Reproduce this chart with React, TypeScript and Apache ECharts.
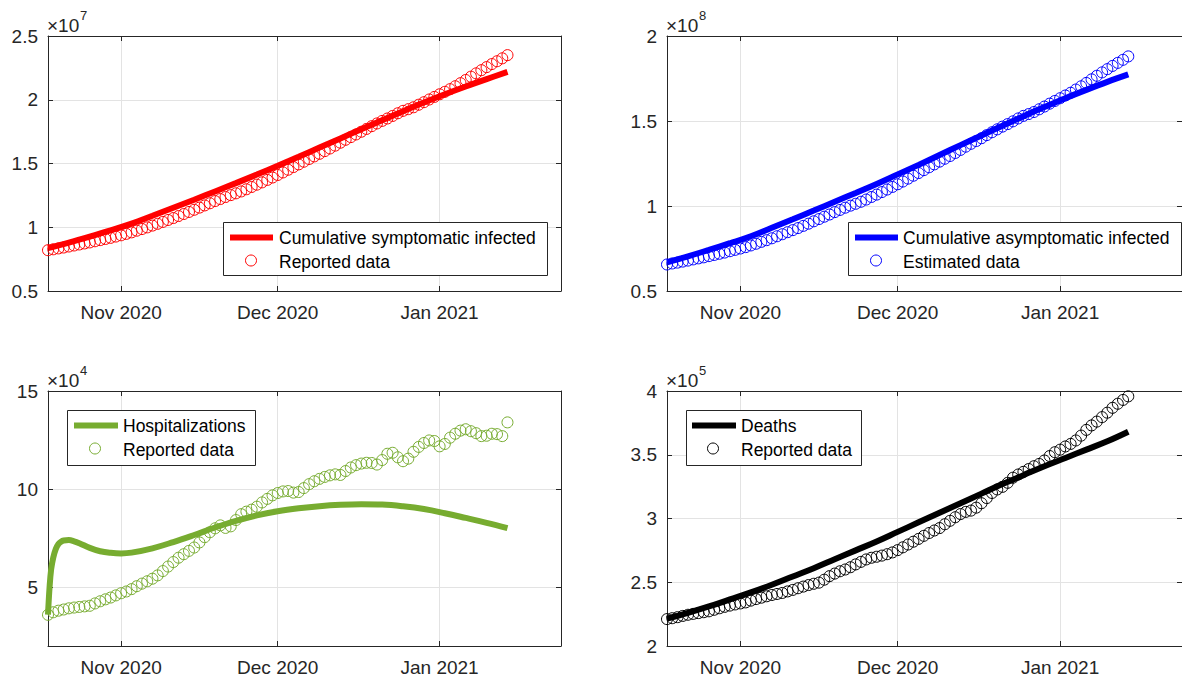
import React, { useEffect, useRef } from "react";
import * as echarts from "echarts";

// ---------- DATA ----------
const DAY = 86400000;
const START = Date.UTC(2020, 9, 18); // first daily observation
const X_MIN = Date.UTC(2020, 9, 18);
const X_MAX = Date.UTC(2021, 0, 24, 6);
const MONTH_TICKS = [Date.UTC(2020, 10, 1), Date.UTC(2020, 11, 1), Date.UTC(2021, 0, 1)];
const MONTH_NAMES = ["Jan", "Feb", "Mar", "Apr", "May", "Jun", "Jul", "Aug", "Sep", "Oct", "Nov", "Dec"];

// Days (from START) at which the fitted curves are sampled
const fitDays = [0, 4, 8, 12, 16, 20, 24, 28, 32, 36, 40, 44, 48, 52, 56, 60, 64, 68, 72, 76, 80, 84, 88];
const hospFitDays = [0, 0.3, 0.6, 1, 1.5, 2, 2.5, 3, 4, 5, 6, 8, 10, 12, 14, 16, 20, 24, 28, 32, 36, 40, 44, 48, 52, 56, 60, 64, 68, 72, 76, 80, 84, 88];

// Cumulative symptomatic infected (x1e7)
const symptomaticReported = [
  0.820, 0.827, 0.834, 0.841, 0.849, 0.857, 0.865, 0.873, 0.881, 0.890,
  0.899, 0.908, 0.917, 0.927, 0.937, 0.948, 0.960, 0.973, 0.986, 0.999,
  1.013, 1.027, 1.042, 1.057, 1.072, 1.088, 1.104, 1.120, 1.137, 1.154,
  1.171, 1.188, 1.205, 1.221, 1.237, 1.252, 1.266, 1.281, 1.298, 1.316,
  1.334, 1.352, 1.371, 1.390, 1.410, 1.430, 1.451, 1.472, 1.493, 1.514,
  1.535, 1.556, 1.576, 1.597, 1.618, 1.640, 1.663, 1.686, 1.707, 1.728,
  1.749, 1.771, 1.793, 1.814, 1.834, 1.853, 1.873, 1.894, 1.913, 1.926,
  1.941, 1.961, 1.981, 2.002, 2.022, 2.043, 2.062, 2.083, 2.106, 2.130,
  2.155, 2.181, 2.207, 2.232, 2.256, 2.280, 2.302, 2.325, 2.350,
];
const symptomaticFit = [
  0.836, 0.880, 0.927, 0.976, 1.028, 1.090, 1.153, 1.216, 1.281, 1.346, 1.413, 1.482,
  1.553, 1.625, 1.697, 1.769, 1.840, 1.910, 1.978, 2.043, 2.104, 2.162, 2.218,
];

// Cumulative asymptomatic infected (x1e8)
const asymptomaticEstimated = [
  0.656, 0.662, 0.667, 0.673, 0.679, 0.686, 0.692, 0.698, 0.705, 0.712,
  0.719, 0.726, 0.734, 0.742, 0.750, 0.758, 0.768, 0.778, 0.789, 0.799,
  0.810, 0.822, 0.834, 0.846, 0.858, 0.870, 0.883, 0.896, 0.910, 0.923,
  0.937, 0.950, 0.964, 0.977, 0.990, 1.002, 1.013, 1.025, 1.038, 1.053,
  1.067, 1.082, 1.097, 1.112, 1.128, 1.144, 1.161, 1.178, 1.194, 1.211,
  1.228, 1.245, 1.261, 1.278, 1.294, 1.312, 1.330, 1.349, 1.366, 1.382,
  1.399, 1.417, 1.434, 1.451, 1.467, 1.482, 1.498, 1.515, 1.530, 1.541,
  1.553, 1.569, 1.585, 1.602, 1.618, 1.634, 1.650, 1.666, 1.685, 1.704,
  1.724, 1.745, 1.766, 1.786, 1.805, 1.824, 1.842, 1.860, 1.880,
];
const asymptomaticFit = [
  0.669, 0.704, 0.742, 0.781, 0.822, 0.872, 0.922, 0.973, 1.025, 1.077, 1.130, 1.186,
  1.242, 1.300, 1.358, 1.415, 1.472, 1.528, 1.582, 1.634, 1.683, 1.730, 1.774,
];

// Hospitalizations (x1e4)
const hospReported = [
  3.59, 3.72, 3.80, 3.86, 3.92, 3.96, 3.99, 4.02, 4.05, 4.17,
  4.28, 4.38, 4.47, 4.58, 4.69, 4.78, 4.90, 5.05, 5.18, 5.30,
  5.43, 5.60, 5.82, 6.05, 6.28, 6.50, 6.68, 6.85, 7.02, 7.28,
  7.55, 7.80, 8.00, 8.15, 8.02, 8.10, 8.42, 8.72, 8.85, 8.95,
  9.10, 9.32, 9.50, 9.68, 9.80, 9.88, 9.90, 9.82, 9.85, 10.05,
  10.25, 10.40, 10.52, 10.62, 10.70, 10.75, 10.72, 10.92, 11.10, 11.22,
  11.30, 11.34, 11.33, 11.25, 11.48, 11.80, 11.85, 11.62, 11.42, 11.55,
  11.90, 12.15, 12.35, 12.48, 12.45, 12.18, 12.30, 12.62, 12.82, 12.98,
  13.05, 12.95, 12.85, 12.70, 12.72, 12.82, 12.80, 12.70, 13.40,
];
const hospFit = [
  3.60, 5.00, 5.90, 6.50, 6.95, 7.20, 7.32, 7.38, 7.40, 7.34, 7.24, 7.00, 6.83, 6.75,
  6.72, 6.76, 6.98, 7.30, 7.66, 8.04, 8.38, 8.66, 8.87, 9.02, 9.13, 9.20, 9.23, 9.21,
  9.12, 8.98, 8.77, 8.53, 8.28, 8.01,
];

// Deaths (x1e5)
const deathsReported = [
  2.211, 2.218, 2.226, 2.236, 2.245, 2.252, 2.258, 2.265, 2.272, 2.284,
  2.296, 2.307, 2.317, 2.326, 2.334, 2.342, 2.356, 2.368, 2.379, 2.390,
  2.400, 2.408, 2.416, 2.428, 2.440, 2.453, 2.466, 2.478, 2.488, 2.497,
  2.520, 2.548, 2.568, 2.586, 2.600, 2.618, 2.640, 2.660, 2.679, 2.692,
  2.700, 2.709, 2.720, 2.734, 2.752, 2.774, 2.796, 2.818, 2.840, 2.864,
  2.886, 2.906, 2.925, 2.955, 2.982, 3.010, 3.035, 3.052, 3.062, 3.085,
  3.120, 3.160, 3.200, 3.228, 3.248, 3.280, 3.320, 3.345, 3.366, 3.388,
  3.410, 3.428, 3.455, 3.490, 3.520, 3.540, 3.565, 3.585, 3.612, 3.650,
  3.695, 3.730, 3.760, 3.795, 3.830, 3.868, 3.900, 3.930, 3.958,
];
const deathsFit = [
  2.215, 2.260, 2.310, 2.365, 2.420, 2.480, 2.545, 2.610, 2.680, 2.750, 2.820, 2.895,
  2.970, 3.045, 3.120, 3.195, 3.270, 3.340, 3.410, 3.475, 3.540, 3.605, 3.680,
];

// ---------- STYLE / LAYOUT ----------
const FONT = "'Liberation Sans', Arial, Helvetica, sans-serif";
const AX = "#262626";
const GRID = "#e3e3e3";
const GREEN = "#77ac30";

const PANELS = [
  {
    left: 48, top: 36, width: 513, height: 255,
    yMin: 0.5, yMax: 2.5, yTicks: [0.5, 1, 1.5, 2, 2.5], exp: "7",
    color: "#ff0000", fitX: fitDays, fitY: symptomaticFit, dataY: symptomaticReported,
    fitName: "Cumulative symptomatic infected", dataName: "Reported data",
    legend: { x: 223, y: 222, w: 324, h: 53, l1: 230, l2: 273, cx: 251, tx: 279 },
  },
  {
    left: 667, top: 36, width: 528, height: 255,
    yMin: 0.5, yMax: 2, yTicks: [0.5, 1, 1.5, 2], exp: "8",
    color: "#0000ff", fitX: fitDays, fitY: asymptomaticFit, dataY: asymptomaticEstimated,
    fitName: "Cumulative asymptomatic infected", dataName: "Estimated data",
    legend: { x: 848, y: 222, w: 333, h: 53, l1: 855, l2: 898, cx: 876, tx: 903 },
  },
  {
    left: 48, top: 391, width: 513, height: 255,
    yMin: 2, yMax: 15, yTicks: [5, 10, 15], exp: "4",
    color: GREEN, fitX: hospFitDays, fitY: hospFit, dataY: hospReported,
    fitName: "Hospitalizations", dataName: "Reported data",
    legend: { x: 67, y: 410, w: 188, h: 55, l1: 74, l2: 118, cx: 95, tx: 123 },
  },
  {
    left: 667, top: 391, width: 528, height: 255,
    yMin: 2, yMax: 4, yTicks: [2, 2.5, 3, 3.5, 4], exp: "5",
    color: "#000000", fitX: fitDays, fitY: deathsFit, dataY: deathsReported,
    fitName: "Deaths", dataName: "Reported data",
    legend: { x: 686, y: 410, w: 175, h: 55, l1: 692, l2: 736, cx: 713, tx: 741 },
  },
];

function fmtMonth(v: number) {
  const d = new Date(v);
  return MONTH_NAMES[d.getUTCMonth()] + " " + d.getUTCFullYear();
}

function buildOption() {
  const grid: any[] = [];
  const xAxis: any[] = [];
  const yAxis: any[] = [];
  const series: any[] = [];
  const graphic: any[] = [];

  PANELS.forEach((p, i) => {
    grid.push({ left: p.left, top: p.top, width: p.width, height: p.height });
    const axisLine = { show: true, onZero: false, lineStyle: { color: AX, width: 1 } };
    const tickBase = { show: true, inside: true, length: 5, lineStyle: { color: AX, width: 1 } };
    const splitLine = { show: true, lineStyle: { color: GRID, width: 1 } };

    xAxis.push({
      type: "value", gridIndex: i, position: "bottom", min: X_MIN, max: X_MAX, scale: true,
      axisLine, axisTick: { ...tickBase, customValues: MONTH_TICKS },
      axisLabel: { customValues: MONTH_TICKS, formatter: fmtMonth, fontSize: 19, color: AX, margin: 12, fontFamily: FONT },
      splitLine,
    });
    xAxis.push({
      type: "value", gridIndex: i, position: "top", min: X_MIN, max: X_MAX, scale: true,
      axisLine, axisTick: { ...tickBase, customValues: MONTH_TICKS },
      axisLabel: { show: false, customValues: MONTH_TICKS, formatter: fmtMonth }, splitLine: { show: false },
    });
    yAxis.push({
      type: "value", gridIndex: i, position: "left", min: p.yMin, max: p.yMax,
      axisLine, axisTick: { ...tickBase, customValues: p.yTicks },
      axisLabel: { customValues: p.yTicks, fontSize: 19, color: AX, margin: 10, fontFamily: FONT },
      splitLine,
    });
    yAxis.push({
      type: "value", gridIndex: i, position: "right", min: p.yMin, max: p.yMax,
      axisLine, axisTick: { ...tickBase, customValues: p.yTicks },
      axisLabel: { show: false, customValues: p.yTicks }, splitLine: { show: false },
    });

    series.push({
      name: p.fitName, type: "line", xAxisIndex: 2 * i, yAxisIndex: 2 * i,
      data: p.fitX.map((d, k) => [START + d * DAY, p.fitY[k]]),
      showSymbol: false, symbol: "none", smooth: 0.4, clip: false, silent: true,
      lineStyle: { color: p.color, width: 6, cap: "butt" }, z: 2,
    });
    series.push({
      name: p.dataName, type: "scatter", xAxisIndex: 2 * i, yAxisIndex: 2 * i,
      data: p.dataY.map((v, k) => [START + k * DAY, v]),
      symbol: "circle", symbolSize: 11, clip: false, silent: true,
      itemStyle: { color: "rgba(0,0,0,0)", borderColor: p.color, borderWidth: 1, opacity: 1 }, z: 3,
    });

    // exponent label
    const ey = p.top - 10;
    graphic.push({
      type: "text", left: p.left - 1, top: ey - 10, silent: true, z: 100,
      style: { text: "×10", font: `19px ${FONT}`, fill: AX },
    });
    graphic.push({
      type: "text", left: p.left + 32, top: ey - 17, silent: true, z: 100,
      style: { text: p.exp, font: `13px ${FONT}`, fill: AX },
    });

    // legend box
    const L = p.legend;
    const r1 = L.y + 15.5;
    const r2 = L.y + 38.5;
    graphic.push(
      { type: "rect", silent: true, z: 100, shape: { x: L.x + 0.5, y: L.y + 0.5, width: L.w, height: L.h }, style: { fill: "#ffffff", stroke: AX, lineWidth: 1 } },
      { type: "line", silent: true, z: 101, shape: { x1: L.l1, y1: r1, x2: L.l2, y2: r1 }, style: { stroke: p.color, lineWidth: 6 } },
      { type: "circle", silent: true, z: 101, shape: { cx: L.cx, cy: r2, r: 5.5 }, style: { fill: "none", stroke: p.color, lineWidth: 1 } },
      { type: "text", silent: true, z: 101, x: L.tx, y: r1, style: { text: p.fitName, font: `17.5px ${FONT}`, fill: "#000", verticalAlign: "middle", align: "left" } },
      { type: "text", silent: true, z: 101, x: L.tx, y: r2 + 1, style: { text: p.dataName, font: `17.5px ${FONT}`, fill: "#000", verticalAlign: "middle", align: "left" } },
    );
  });

  return {
    animation: false,
    backgroundColor: "#ffffff",
    textStyle: { fontFamily: FONT },
    grid, xAxis, yAxis, series, graphic,
  };
}

export default function App() {
  const ref = useRef<HTMLDivElement>(null);
  useEffect(() => {
    if (!ref.current) return;
    const chart = echarts.init(ref.current, null, { renderer: "svg" });
    chart.setOption(buildOption() as any);
    return () => chart.dispose();
  }, []);
  return (
    <div
      ref={ref}
      style={{ position: "fixed", left: 0, top: 0, width: 1182, height: 679, background: "#fff" }}
    />
  );
}
